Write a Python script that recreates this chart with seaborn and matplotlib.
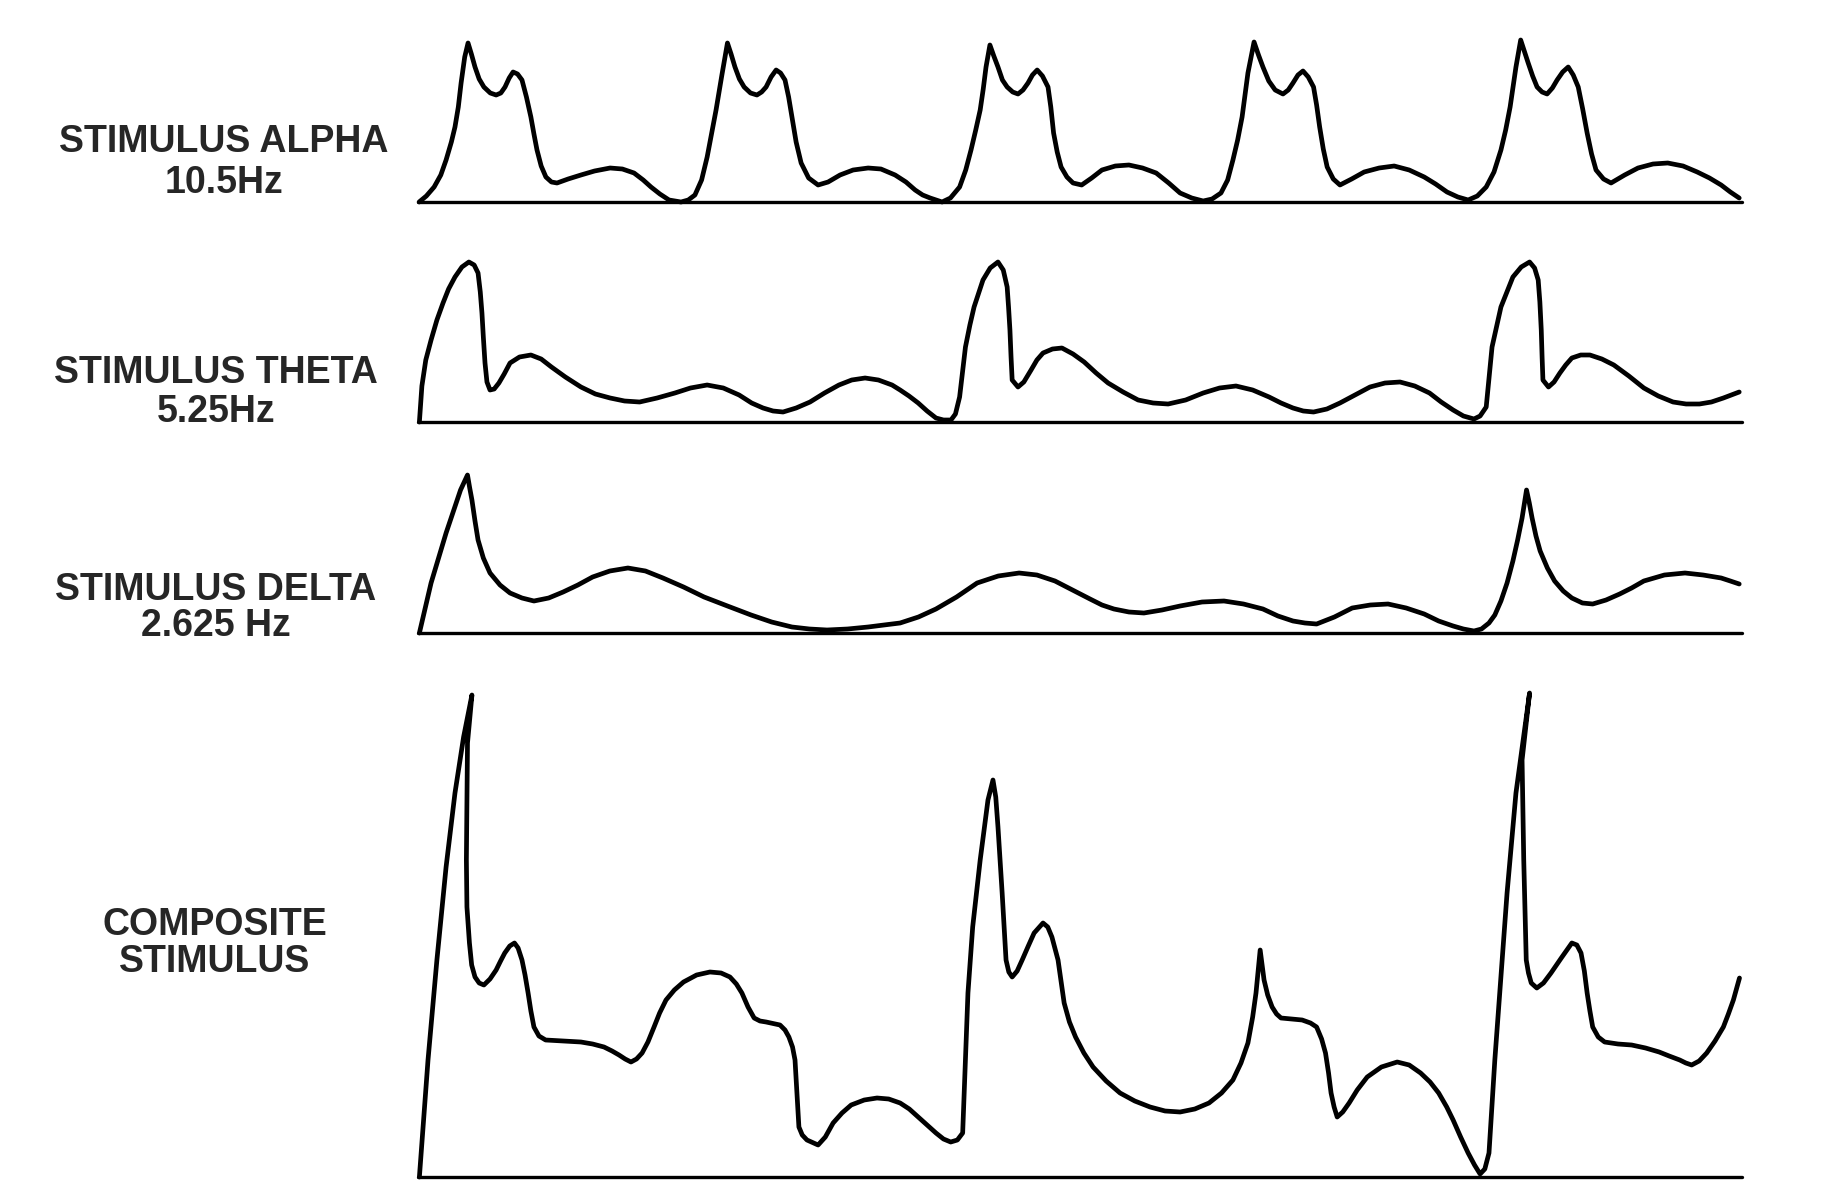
import matplotlib
matplotlib.use("Agg")
import matplotlib.pyplot as plt
import seaborn as sns

# time in ms across the trace, amplitude in arbitrary units
alpha_t = [0.4, 3.0, 5.8, 8.2, 10.1, 12.0, 13.3, 14.5, 15.5, 16.8, 18.0, 19.2, 20.5, 22.0, 23.7, 26.0, 28.1,
           29.8, 31.3, 32.8, 34.2, 35.8, 37.4, 39.0, 40.6, 41.7, 42.8, 44.3, 46.0, 48.0, 50.0, 54.0, 58.6,
           63.5, 69.1, 73.5, 77.7, 81.0, 83.8, 87.0, 90.3, 94.6, 97.2, 99.6, 102.0, 104.0, 105.7, 107.2,
           109.3, 111.3,
           112.6, 114.0, 115.6, 117.3, 119.6, 121.9, 123.6, 125.2, 127.0, 128.8, 130.4, 132.0, 133.3, 134.5,
           136.0, 137.8, 140.5, 143.9, 147.5, 151.8, 156.5, 161.9, 166.5, 171.6, 175.5, 178.8, 181.5, 184.2,
           188.5, 191.5, 194.8, 197.0, 198.9, 200.6, 202.2, 203.3, 204.3, 205.7,
           207.1, 208.6, 210.2, 211.9, 213.9, 215.8, 217.6, 219.4, 221.0, 222.7, 224.6, 226.6, 227.6, 228.6,
           229.9, 231.3, 233.4, 235.6, 238.7, 242.3, 246.0, 250.8, 255.7, 260.6, 265.5, 270.0, 274.1, 278.3,
           282.4, 285.6, 288.8, 291.2, 293.1, 294.8, 296.4, 298.5, 300.7,
           302.3, 303.9, 306.0, 308.3, 311.1, 313.0, 314.7, 316.5, 318.3, 320.2, 322.1, 323.2, 324.3, 325.6,
           327.0, 329.2, 331.6, 335.8, 340.3, 345.7, 351.1, 356.5, 361.9, 366.0, 370.1, 374.0, 377.7, 381.0,
           384.2, 387.0, 389.5, 391.2, 392.8, 394.9, 396.6,
           398.0, 399.3, 400.9, 402.5, 404.3, 406.1, 408.0, 409.7, 411.7, 413.7, 415.5, 417.3, 418.9, 420.5,
           422.1, 423.7, 426.4, 429.1, 434.0, 438.8, 444.2, 449.5, 455.0, 460.1, 464.5, 468.7, 472.0, 475.2]
alpha_amp = [0, 6, 15, 27, 42, 60, 75, 95, 119, 145, 159, 148, 135, 123, 115, 109, 107,
             109, 115, 124, 130, 128, 122, 105, 85, 68, 52, 36, 25, 20, 19, 23, 27,
             31, 34, 33, 29, 22, 15, 8, 2, 0, 2, 7, 22, 45, 70, 92,
             127, 159,
             148, 135, 123, 115, 109, 107, 110, 115, 125, 132, 129, 122, 105, 85,
             60, 39, 24, 17, 20, 27, 32, 34, 33, 27, 20, 12, 7, 4,
             0, 4, 15, 32, 52, 72, 92, 113, 135, 157,
             146, 135, 122, 115, 110, 108, 112, 119, 127, 132, 126, 115, 95, 69,
             50, 35, 25, 19, 17, 24, 32, 36, 37, 34, 29, 19, 9, 4,
             1, 3, 9, 22, 42, 62, 85, 129, 160,
             147, 135, 121, 112, 108, 112, 119, 127, 131, 125, 115, 97, 75, 53,
             35, 23, 17, 23, 30, 34, 36, 32, 25, 18, 10, 5, 2, 6,
             15, 30, 52, 72, 95, 135, 162,
             150, 139, 126, 115, 110, 108, 114, 122, 130, 135, 127, 115, 93, 69,
             48, 32, 23, 19, 27, 34, 38, 39, 36, 30, 24, 17, 10, 4]

theta_t = [0.5, 1.4, 2.8, 4.7, 6.8, 9.0, 11.0, 13.3, 15.8, 18.3, 20.2, 21.6, 22.4, 23.0, 23.5, 24.1, 24.8,
           25.9, 27.4, 29.1, 31.0, 33.1, 36.5, 40.6, 44.3, 48.0, 53.0, 58.6, 63.8, 69.1, 74.3, 79.7, 86.0,
           92.4, 98.0, 104.0, 109.8, 115.5, 120.0, 124.1, 127.7, 131.3, 136.0, 141.0, 146.2, 151.4, 156.0,
           160.8, 165.6, 170.5, 173.4, 176.6, 179.9, 183.1, 186.3, 189.0, 191.7, 193.3,
           194.8, 196.9, 198.5, 200.0, 203.2, 205.8, 208.6, 210.5, 211.9, 212.4, 212.9, 213.3, 213.7, 215.8,
           217.9, 220.5, 222.6, 224.8, 228.2, 231.6, 235.6, 239.6, 243.9, 248.2, 253.6, 259.0, 264.4, 269.8,
           276.1, 282.4, 288.3, 294.2, 300.2, 306.1, 310.4, 314.7, 318.4, 322.1, 326.9, 331.6, 337.0, 342.4,
           347.8, 353.2, 358.5, 363.8, 368.0, 372.3, 376.0, 379.8, 382.0,
           384.2, 386.3, 389.5, 393.8, 396.8, 399.8, 401.6, 402.9, 403.5, 404.0, 404.3, 404.6, 406.6, 408.6,
           410.7, 412.8, 415.0, 418.2, 421.5, 425.8, 430.1, 435.5, 440.9, 446.1, 451.4, 456.1, 460.9, 465.2,
           469.5, 472.4, 475.2]
theta_amp = [0, 36, 62, 82, 102, 119, 133, 145, 155, 160, 157, 149, 130, 109, 85, 59, 40,
             32, 33, 39, 48, 59, 65, 67, 63, 55, 45, 35, 28, 24, 21, 20, 24,
             29, 34, 37, 34, 27, 19, 14, 11, 10, 14, 20, 29, 37, 42,
             44, 42, 37, 32, 26, 19, 11, 4, 2, 2, 8,
             25, 75, 97, 115, 142, 154, 160, 152, 135, 115, 92, 65, 42, 35,
             40, 52, 62, 69, 73, 74, 68, 60, 49, 39, 30, 22, 19, 18,
             22, 29, 34, 36, 32, 25, 19, 14, 11, 10, 13, 19, 27, 35,
             39, 40, 36, 29, 20, 12, 6, 3, 6,
             15, 75, 115, 145, 155, 160, 154, 142, 120, 92, 65, 42, 35, 40,
             49, 57, 64, 67, 67, 63, 57, 46, 34, 26, 20, 18, 18, 20,
             24, 27, 30]

delta_t = [0.5, 4.7, 10.1, 15.3, 17.8, 18.6, 19.4, 20.5, 21.6, 23.5, 25.9, 29.5, 33.1, 37.4, 41.7, 47.0,
           52.2, 57.5, 62.8, 69.0, 75.5, 81.8, 88.1, 95.5, 102.9, 111.3, 119.8, 127.2, 134.5, 140.8, 147.1,
           154.5, 161.9, 167.6, 173.4, 180.0, 186.3, 193.7, 201.1, 208.7, 216.2, 222.6, 229.1, 235.4, 241.7,
           246.0, 250.3, 255.7, 261.1, 267.6, 274.1, 282.0, 289.9, 296.9, 303.9, 309.3, 314.7, 319.0, 323.2,
           329.6, 336.0, 342.5, 348.9, 355.4, 361.9, 367.1, 372.3, 376.0, 379.8, 382.5, 385.2, 387.3, 389.5,
           391.7, 393.8, 395.5, 397.1, 398.7, 399.7, 400.7, 402.1, 403.6, 406.2, 408.8, 411.9, 415.0, 418.8,
           422.5, 427.3, 432.2, 436.5, 440.9, 448.3, 455.7, 462.2, 468.7, 472.0, 475.2]
delta_amp = [0, 50, 100, 143, 158, 145, 133, 112, 93, 75, 60, 48, 40, 35, 32, 35,
             41, 48, 56, 62, 65, 62, 55, 46, 36, 27, 18, 11, 6, 4, 3,
             4, 6, 8, 10, 16, 24, 36, 50, 57, 60, 58, 52, 43, 34,
             28, 24, 21, 20, 23, 27, 31, 32, 29, 24, 17, 12, 10, 9,
             16, 25, 28, 29, 25, 19, 12, 7, 4, 2, 4, 10, 18, 32,
             50, 72, 93, 115, 143, 130, 115, 97, 82, 65, 52, 42, 35, 30,
             29, 33, 39, 45, 52, 58, 60, 58, 55, 52, 49]

composite_t = [0.5, 3.6, 6.8, 10.1, 13.3, 16.4, 19.4, 17.8, 17.4, 17.6, 18.5, 19.3, 20.5, 22.0, 23.7, 25.9,
               28.1, 29.7, 31.2, 33.0, 34.7, 36.0, 37.4, 38.5, 39.6, 40.6, 41.7, 43.5, 45.9, 52.0, 58.6, 62.8,
               66.9, 69.8, 72.3, 74.5, 76.6, 78.6, 80.6, 82.7, 84.9, 86.9, 89.2, 92.2, 95.5, 100.2, 105.0,
               109.0, 112.2, 114.5, 116.5, 118.7, 120.9, 123.0, 125.2, 130.2, 132.0, 133.4, 134.7, 135.6,
               136.3, 137.0, 138.2, 139.9, 143.9, 146.5, 149.3, 152.5, 155.8, 160.5, 165.1, 169.3, 173.4,
               176.7, 179.9, 183.1, 186.3, 189.0, 191.6, 194.0, 195.9,
               196.9, 197.8, 199.5, 202.2, 205.0, 206.8, 207.8, 208.6, 210.1, 211.5, 212.5, 213.7, 215.5,
               217.3, 219.5, 221.6, 224.8, 226.5, 228.0, 230.2, 232.4, 234.3, 236.5, 239.5, 242.8, 247.5,
               252.5, 257.8, 263.3, 268.7, 274.1, 279.4, 284.5, 289.0, 293.1, 296.0, 298.5, 300.2, 301.4,
               302.9, 304.3, 305.6, 307.2, 308.8, 310.4, 314.0, 318.0, 321.0, 323.2, 325.0, 326.4, 327.5,
               328.4, 329.5, 330.6, 332.6, 334.9, 337.8, 341.4, 346.5, 352.2, 356.5, 360.6, 364.0, 367.1,
               370.0, 372.3, 375.0, 377.7, 380.0, 382.0, 383.7, 385.2,
               387.3, 389.5, 391.7, 394.9, 399.8, 397.1, 397.7, 398.6, 399.4, 400.4, 402.4, 404.8, 407.5,
               411.2, 415.0, 416.8, 418.3, 419.5, 420.5, 421.5, 422.5, 424.5, 426.8, 431.6, 436.5, 441.5,
               446.4, 450.0, 453.8, 456.0, 458.1, 460.8, 463.5, 466.5, 469.5, 471.3, 473.1, 474.2, 475.3]
composite_amp = [0, 117, 217, 310, 384, 440, 482, 434, 317, 270, 234, 212, 200, 194, 192, 198,
                 207, 216, 224, 231, 234, 229, 217, 202, 184, 166, 150, 141, 137, 136, 135, 133,
                 130, 126, 122, 118, 115, 118, 124, 135, 150, 164, 177, 187, 195, 202, 205,
                 204, 200, 193, 184, 170, 159, 156, 155, 152, 147, 140, 130, 117,
                 84, 50, 42, 37, 32, 40, 54, 64, 72, 77, 79, 78, 74,
                 68, 60, 52, 44, 38, 35, 37, 44,
                 117, 184, 250, 317, 377, 397, 380, 350, 284, 217, 205, 200, 206,
                 217, 231, 244, 254, 250, 240, 217, 174, 155, 140, 124, 110, 96,
                 84, 76, 70, 66, 65, 68, 74, 84, 97, 114, 134, 160, 184,
                 227, 197, 182, 170, 163, 159, 158, 157, 154, 150, 138, 124, 104,
                 84, 70, 60, 65, 74, 87, 100, 110, 115, 112, 104, 95, 84,
                 70, 57, 40, 24, 12, 3, 8, 24,
                 117, 200, 284, 384, 484, 417, 317, 217, 204, 194, 189, 194, 204,
                 219, 234, 232, 224, 206, 184, 166, 150, 140, 135, 133, 132, 129,
                 125, 121, 117, 114, 112, 116, 124, 136, 150, 163, 177, 188, 199]

label_lines = [["STIMULUS ALPHA", "10.5Hz"],
               ["STIMULUS THETA", "5.25Hz"],
               ["STIMULUS DELTA", "2.625 Hz"],
               ["COMPOSITE", "STIMULUS"]]

sns.set_style("white")
plt.rcParams["font.family"] = ["Liberation Sans", "DejaVu Sans"]

W, H = 1833, 1193
fig = plt.figure(figsize=(W / 100, H / 100), dpi=100)

# baseline pixel row, axis height in pixels, label centres (x, y1, y2)
panels = [
    (alpha_t, alpha_amp, 202, 185, (224, 142, 183)),
    (theta_t, theta_amp, 422, 185, (216, 373, 412)),
    (delta_t, delta_amp, 633, 185, (216, 590, 626)),
    (composite_t, composite_amp, 1177, 500, (215, 925, 962)),
]

for (t, amp, base, top, lab), lines in zip(panels, label_lines):
    ax = fig.add_axes([418 / W, 1 - base / H, 1324 / W, top / H])
    sns.lineplot(x=t, y=amp, ax=ax, sort=False, estimator=None, color="black",
                 linewidth=3.4, clip_on=False)
    ax.lines[-1].set_solid_joinstyle("round")
    ax.lines[-1].set_solid_capstyle("round")
    ax.axhline(0, color="black", linewidth=2.4, clip_on=False)
    ax.set_xlim(0, 476.2)
    ax.set_ylim(0, top)
    ax.axis("off")
    fig.text(lab[0] / W, 1 - lab[1] / H, lines[0], ha="center", va="center",
             fontsize=27, fontweight="bold")
    fig.text(lab[0] / W, 1 - lab[2] / H, lines[1], ha="center", va="center",
             fontsize=27, fontweight="bold")

fig.savefig("out.png", dpi=100, facecolor="white")
